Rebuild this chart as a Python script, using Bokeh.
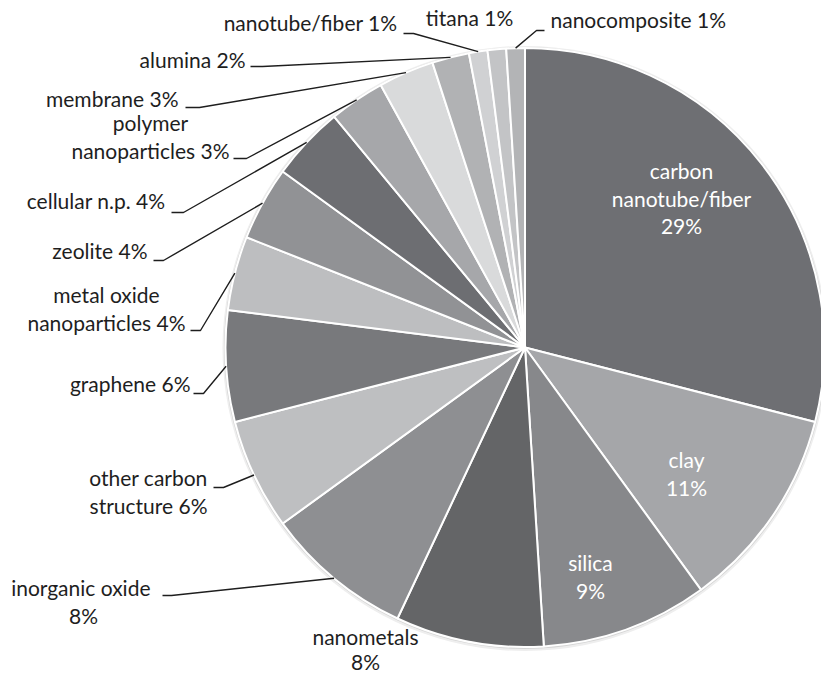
import numpy as np
from bokeh.plotting import figure
from bokeh.models import Range1d
from bokeh.core.properties import value
from bokeh.embed import file_html
from bokeh.resources import INLINE

# ---------------- data ----------------
categories = ["carbon nanotube/fiber", "clay", "silica", "nanometals", "inorganic oxide",
              "other carbon structure", "graphene", "metal oxide nanoparticles", "zeolite",
              "cellular n.p.", "polymer nanoparticles", "membrane", "alumina",
              "nanotube/fiber", "titana", "nanocomposite"]
shares = [29, 11, 9, 8, 8, 6, 6, 4, 4, 4, 3, 3, 2, 1, 1, 1]
label_text = ["carbon\nnanotube/fiber\n29%", "clay\n11%", "silica\n9%", "nanometals\n8%",
              "inorganic  oxide\n8%", "other carbon\nstructure 6%", "graphene 6%",
              "metal oxide\nnanoparticles 4%", "zeolite 4%", "cellular n.p. 4%",
              "polymer\nnanoparticles 3%", "membrane 3%", "alumina 2%",
              "nanotube/fiber 1%", "titana 1%", "nanocomposite 1%"]
colors = ["#6e6f73", "#a5a6a9", "#87888b", "#646567", "#8e8f92", "#bebfc1", "#78797c",
          "#bdbec0", "#919295", "#6d6e72", "#a6a7aa", "#d9dadb", "#b1b2b4", "#d0d1d3",
          "#c3c4c6", "#b3b4b6"]

# ---------------- layout (pixel coords, top origin) ----------------
W, H = 821, 676
CX, CY_PX, R = 524.5, 347.0, 299.5
TEXT_DY = -3
FONT = "Lato"
FSIZE = "21px"
# (x, y of first line centre, align, text colour, line gap)
label_pos = [
    (681, 173, "center", "white", 27.5),
    (686, 462, "center", "white", 27.5),
    (590, 565, "center", "white", 27.5),
    (365, 639, "center", "#1e1e1e", 25.0),
    (83, 590, "center", "#1e1e1e", 27.5),
    (148, 480, "center", "#1e1e1e", 27.5),
    (190, 386, "right", "#1e1e1e", 27.5),
    (106, 297, "center", "#1e1e1e", 27.5),
    (147, 253, "right", "#1e1e1e", 27.5),
    (165, 203, "right", "#1e1e1e", 27.5),
    (150, 125, "center", "#1e1e1e", 27.5),
    (178, 101, "right", "#1e1e1e", 27.5),
    (245, 62, "right", "#1e1e1e", 27.5),
    (397, 25, "right", "#1e1e1e", 27.5),
    (469, 20, "center", "#1e1e1e", 27.5),
    (550, 22, "left", "#1e1e1e", 27.5),
]
# leader tick (x0, x1, y) in pixels; None = no leader
ticks = [None, None, None, None,
         (162, 171, 595), (213, 223, 487), (193, 203, 393), (190, 200, 330),
         (153, 163, 260), (171, 183, 212), (233, 246, 158), (185, 199, 107),
         (250, 262, 66), (403, 413, 33), None, (544, 536, 30)]

# ---------------- figure ----------------
p = figure(width=W, height=H, x_range=Range1d(0, W), y_range=Range1d(0, H),
           x_axis_location=None, y_axis_location=None, toolbar_location=None,
           output_backend="svg", min_border=0)
p.grid.visible = False
p.outline_line_color = None
p.background_fill_color = "white"
p.border_fill_color = "white"

cy = H - CY_PX
frac = np.array(shares, dtype=float) / sum(shares)
cum = np.concatenate([[0.0], np.cumsum(frac)])
start = np.pi / 2 - 2 * np.pi * cum[:-1]
end = np.pi / 2 - 2 * np.pi * cum[1:]

# soft outer shadow
p.circle(x=CX, y=cy - 1, radius=R + 3, fill_color="#eeeeee", line_color=None)
p.circle(x=CX, y=cy - 0.5, radius=R + 1.5, fill_color="#d4d4d4", line_color=None)

p.wedge(x=CX, y=cy, radius=R, start_angle=start, end_angle=end, direction="clock",
        fill_color=colors, line_color="white", line_width=2)

# leader lines
xs, ys = [], []
for i, t in enumerate(ticks):
    if t is None:
        continue
    mid = 2 * np.pi * (cum[i] + cum[i + 1]) / 2
    ex = CX + R * np.sin(mid)
    ey = cy + R * np.cos(mid)
    x0, x1, ty = t
    xs.append([x0, x1, ex])
    ys.append([H - ty, H - ty, ey])
p.multi_line(xs=xs, ys=ys, line_color="#1e1e1e", line_width=1.4)

# labels
for txt, (lx, ly, al, col, gap) in zip(label_text, label_pos):
    for k, line in enumerate(txt.split("\n")):
        p.text(x=[lx], y=[H - (ly + k * gap + TEXT_DY)], text=[line], text_align=al,
               text_baseline="middle", text_font=value(FONT), text_font_size=FSIZE,
               text_color=col)

open("out.html", "w").write(file_html(p, INLINE))
